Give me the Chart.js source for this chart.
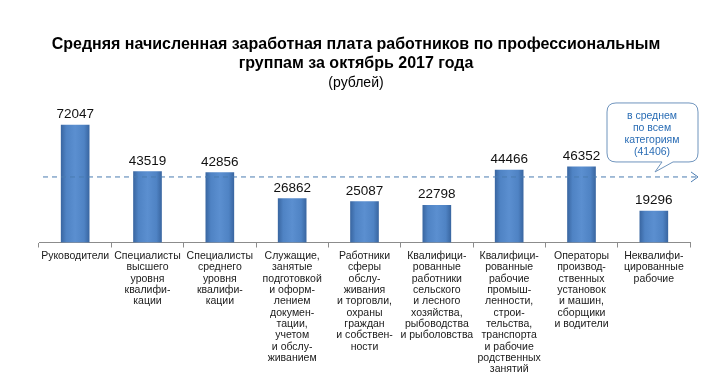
<!DOCTYPE html>
<html>
<head>
<meta charset="utf-8">
<script src="https://cdn.jsdelivr.net/npm/chart.js@4.4.0/dist/chart.umd.min.js"></script>
<style>
  html, body { margin: 0; padding: 0; background: #fff; }
  #wrap { width: 726px; height: 391px; }
</style>
</head>
<body>
<div id="wrap"><canvas id="myChart" width="726" height="391"></canvas></div>
<script>
// заголовок
var titleLines = ['Средняя начисленная заработная плата работников по профессиональным', 'группам за октябрь 2017 года'];
var subtitleText = '(рублей)';

// категории (подписи по оси x, по строкам)
var categories = [
    ['Руководители'],
    ['Специалисты', 'высшего', 'уровня', 'квалифи-', 'кации'],
    ['Специалисты', 'среднего', 'уровня', 'квалифи-', 'кации'],
    ['Служащие,', 'занятые', 'подготовкой', 'и оформ-', 'лением', 'докумен-', 'тации,', 'учетом', 'и обслу-', 'живанием'],
    ['Работники', 'сферы', 'обслу-', 'живания', 'и торговли,', 'охраны', 'граждан', 'и собствен-', 'ности'],
    ['Квалифици-', 'рованные', 'работники', 'сельского', 'и лесного', 'хозяйства,', 'рыбоводства', 'и рыболовства'],
    ['Квалифици-', 'рованные', 'рабочие', 'промыш-', 'ленности,', 'строи-', 'тельства,', 'транспорта', 'и рабочие', 'родственных', 'занятий'],
    ['Операторы', 'производ-', 'ственных', 'установок', 'и машин,', 'сборщики', 'и водители'],
    ['Неквалифи-', 'цированные', 'рабочие']
];

// значения
var values = [72047, 43519, 42856, 26862, 25087, 22798, 44466, 46352, 19296];

// среднее по всем категориям
var averageValue = 41406;
var calloutLines = ['в среднем', 'по всем', 'категориям', '(41406)'];

var fontFamily = '"Liberation Sans", Arial, sans-serif';

// градиент для столбцов
function barColor(context) {
    var chart = context.chart;
    if (!chart.chartArea || !chart.scales.x) return '#4f81bd';
    var cx = chart.scales.x.getPixelForValue(context.dataIndex);
    var g = chart.ctx.createLinearGradient(cx - 14, 0, cx + 14, 0);
    g.addColorStop(0, '#3a67a2');
    g.addColorStop(0.18, '#4f83c4');
    g.addColorStop(0.5, '#5b8fd0');
    g.addColorStop(0.82, '#4f83c4');
    g.addColorStop(1, '#3a67a2');
    return g;
}

// плагин: заголовок, подписи значений, линия среднего и выноска
var extras = {
    id: 'extras',
    afterDraw: function (chart) {
        var ctx = chart.ctx;
        var area = chart.chartArea;
        var yScale = chart.scales.y;
        ctx.save();

        // заголовок
        ctx.fillStyle = '#000';
        ctx.textAlign = 'center';
        ctx.textBaseline = 'middle';
        ctx.font = 'bold 16px ' + fontFamily;
        ctx.fillText(titleLines[0], 356, 45);
        ctx.fillText(titleLines[1], 356, 64);
        ctx.font = '14px ' + fontFamily;
        ctx.fillText(subtitleText, 356, 83);

        // подписи значений
        ctx.font = '13.5px ' + fontFamily;
        ctx.fillStyle = '#111';
        ctx.textBaseline = 'alphabetic';
        var meta = chart.getDatasetMeta(0);
        meta.data.forEach(function (bar, i) {
            ctx.fillText(String(values[i]), bar.x, bar.y - 7);
        });

        // линия среднего
        var ya = yScale.getPixelForValue(averageValue) + 2;
        var x0 = area.left + 4;
        var x1 = area.right + 8;
        ctx.strokeStyle = '#4a7bb0';
        ctx.lineWidth = 1;
        ctx.setLineDash([5, 4]);
        ctx.beginPath();
        ctx.moveTo(x0, ya);
        ctx.lineTo(x1 - 2, ya);
        ctx.stroke();
        ctx.setLineDash([]);
        ctx.beginPath();
        ctx.moveTo(x1 - 7, ya - 5);
        ctx.lineTo(x1, ya);
        ctx.lineTo(x1 - 7, ya + 5);
        ctx.stroke();

        // выноска
        var bx = area.right - 83, by = ya - 74, bw = 91, bh = 59, r = 9;
        var bottom = by + bh;
        ctx.strokeStyle = '#6f94bd';
        ctx.fillStyle = '#fff';
        ctx.beginPath();
        ctx.moveTo(bx + r, by);
        ctx.lineTo(bx + bw - r, by);
        ctx.quadraticCurveTo(bx + bw, by, bx + bw, by + r);
        ctx.lineTo(bx + bw, bottom - r);
        ctx.quadraticCurveTo(bx + bw, bottom, bx + bw - r, bottom);
        ctx.lineTo(bx + 66, bottom);
        ctx.lineTo(bx + 48, ya - 5);
        ctx.lineTo(bx + 55, bottom);
        ctx.lineTo(bx + r, bottom);
        ctx.quadraticCurveTo(bx, bottom, bx, bottom - r);
        ctx.lineTo(bx, by + r);
        ctx.quadraticCurveTo(bx, by, bx + r, by);
        ctx.closePath();
        ctx.fill();
        ctx.stroke();

        ctx.fillStyle = '#2a6db5';
        ctx.font = '10.5px ' + fontFamily;
        ctx.textBaseline = 'middle';
        calloutLines.forEach(function (line, i) {
            ctx.fillText(line, bx + 45, by + 13 + i * 12);
        });

        ctx.restore();
    }
};

var canvas = document.getElementById('myChart');
var ctx = canvas.getContext('2d');

var myChart = new Chart(ctx, {
    type: 'bar',
    data: {
        labels: categories,
        datasets: [{
            data: values,
            backgroundColor: barColor,
            borderWidth: 0,
            barThickness: 28
        }]
    },
    options: {
        responsive: false,
        animation: false,
        layout: {
            padding: { top: 112, left: 39, right: 36, bottom: 18 }
        },
        plugins: {
            legend: { display: false },
            title: { display: false },
            tooltip: { enabled: false }
        },
        scales: {
            x: {
                offset: true,
                grid: {
                    display: true,
                    drawOnChartArea: false,
                    drawTicks: true,
                    tickLength: 5,
                    color: '#8c8c8c'
                },
                border: { display: true, color: '#8c8c8c' },
                ticks: {
                    color: '#1a1a1a',
                    font: { family: fontFamily, size: 10.5, lineHeight: 1.08 },
                    maxRotation: 0,
                    minRotation: 0,
                    autoSkip: false,
                    padding: 3
                }
            },
            y: {
                display: false,
                min: 0,
                max: 80000
            }
        }
    },
    plugins: [extras]
});
</script>
</body>
</html>
